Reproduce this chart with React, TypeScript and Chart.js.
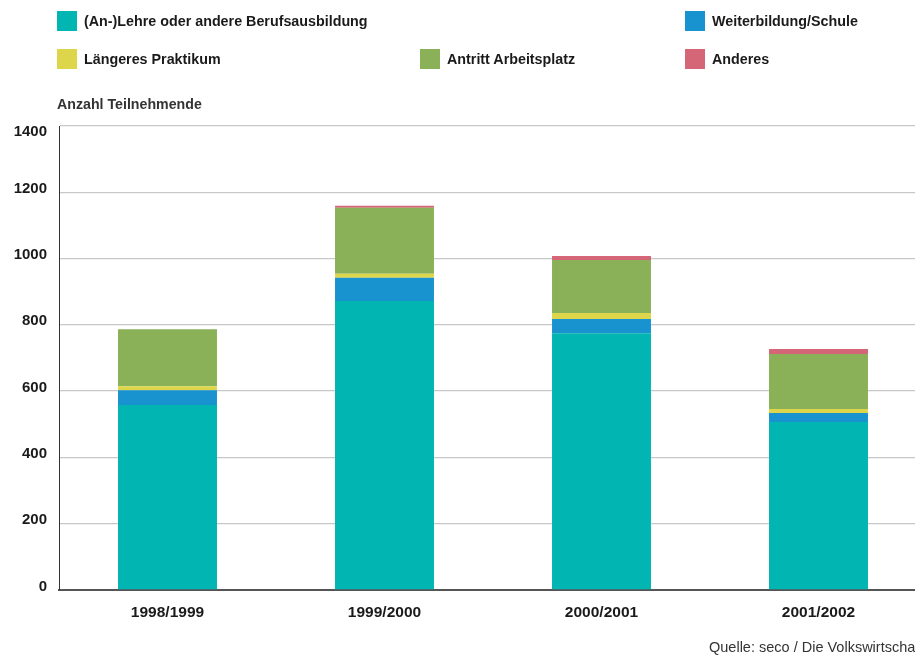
import React, { useEffect, useRef } from "react";
import { Chart, registerables } from "chart.js";

Chart.register(...registerables);

const categories = ["1998/1999", "1999/2000", "2000/2001", "2001/2002"];
const lehre = [558, 872, 775, 507];
const weiterbildung = [45, 70, 43, 27];
const praktikum = [12, 12, 18, 12];
const arbeitsplatz = [172, 199, 160, 166];
const anderes = [0, 6, 12, 15];
const yTicks = [0, 200, 400, 600, 800, 1000, 1200, 1400];

const seriesNames = [
  "(An-)Lehre oder andere Berufsausbildung",
  "Weiterbildung/Schule",
  "Längeres Praktikum",
  "Antritt Arbeitsplatz",
  "Anderes",
];
const seriesColors = ["#00B5B2", "#1993D0", "#DDD64A", "#8AB158", "#D46677"];
const seriesData = [lehre, weiterbildung, praktikum, arbeitsplatz, anderes];

const FONT = "'Liberation Sans', Arial, sans-serif";

// legend layout: [series index, left, top]
const legendLayout: [number, number, number][] = [
  [0, 57, 11],
  [1, 685, 11],
  [2, 57, 49],
  [3, 420, 49],
  [4, 685, 49],
];

export default function App() {
  const ref = useRef<HTMLCanvasElement | null>(null);

  useEffect(() => {
    if (!ref.current) return;
    const chart = new Chart(ref.current, {
      type: "bar",
      data: {
        labels: categories,
        datasets: seriesData.map((d, i) => ({
          label: seriesNames[i],
          data: d,
          backgroundColor: seriesColors[i],
          borderWidth: 0,
          barPercentage: 0.456,
          categoryPercentage: 1,
        })),
      },
      options: {
        animation: false,
        responsive: false,
        maintainAspectRatio: false,
        layout: { padding: { top: 126, right: 13, bottom: 0, left: 0 } },
        plugins: { legend: { display: false }, tooltip: { enabled: false } },
        scales: {
          x: {
            stacked: true,
            grid: { display: false, drawTicks: false },
            border: { display: true, color: "#555", width: 2 },
            ticks: {
              padding: 13,
              color: "#1a1a1a",
              font: { family: FONT, size: 15.5, weight: "bold" },
            },
            afterFit: (s: any) => {
              s.height = 66;
            },
          },
          y: {
            stacked: true,
            min: 0,
            max: 1400,
            afterBuildTicks: (s: any) => {
              s.ticks = yTicks.map((v) => ({ value: v }));
            },
            grid: { color: "#c8c8c8", lineWidth: 1.3, drawTicks: false },
            border: { display: true, color: "#333", width: 1 },
            ticks: {
              padding: 12,
              labelOffset: -3.5,
              color: "#1a1a1a",
              font: { family: FONT, size: 15, weight: "bold" },
              callback: (v: any) => (Number(v) === 1400 ? ["", String(v)] : String(v)),
            },
            afterFit: (s: any) => {
              s.width = 59;
            },
          },
        },
      },
    });
    return () => chart.destroy();
  }, []);

  return (
    <div
      style={{
        position: "fixed",
        left: 0,
        top: 0,
        width: 915,
        height: 656,
        overflow: "hidden",
        background: "#fff",
        fontFamily: FONT,
      }}
    >
      <canvas
        ref={ref}
        width={940}
        height={656}
        style={{ position: "absolute", left: 0, top: 0, width: 940, height: 656 }}
      />
      {legendLayout.map(([i, left, top]) => (
        <div
          key={i}
          style={{ position: "absolute", left, top, height: 20, display: "flex", alignItems: "center", whiteSpace: "nowrap" }}
        >
          <span style={{ display: "inline-block", width: 20, height: 20, background: seriesColors[i], marginRight: 7 }} />
          <span style={{ fontSize: 14.3, fontWeight: "bold", color: "#1a1a1a", lineHeight: "20px" }}>{seriesNames[i]}</span>
        </div>
      ))}
      <div
        style={{ position: "absolute", left: 57, top: 95, fontSize: 14.2, fontWeight: "bold", color: "#333", lineHeight: "18px", whiteSpace: "nowrap" }}
      >
        Anzahl Teilnehmende
      </div>
      <div
        style={{ position: "absolute", left: 709, top: 638, fontSize: 14.5, color: "#333", lineHeight: "18px", whiteSpace: "nowrap" }}
      >
        Quelle: seco / Die Volkswirtschaft
      </div>
    </div>
  );
}
